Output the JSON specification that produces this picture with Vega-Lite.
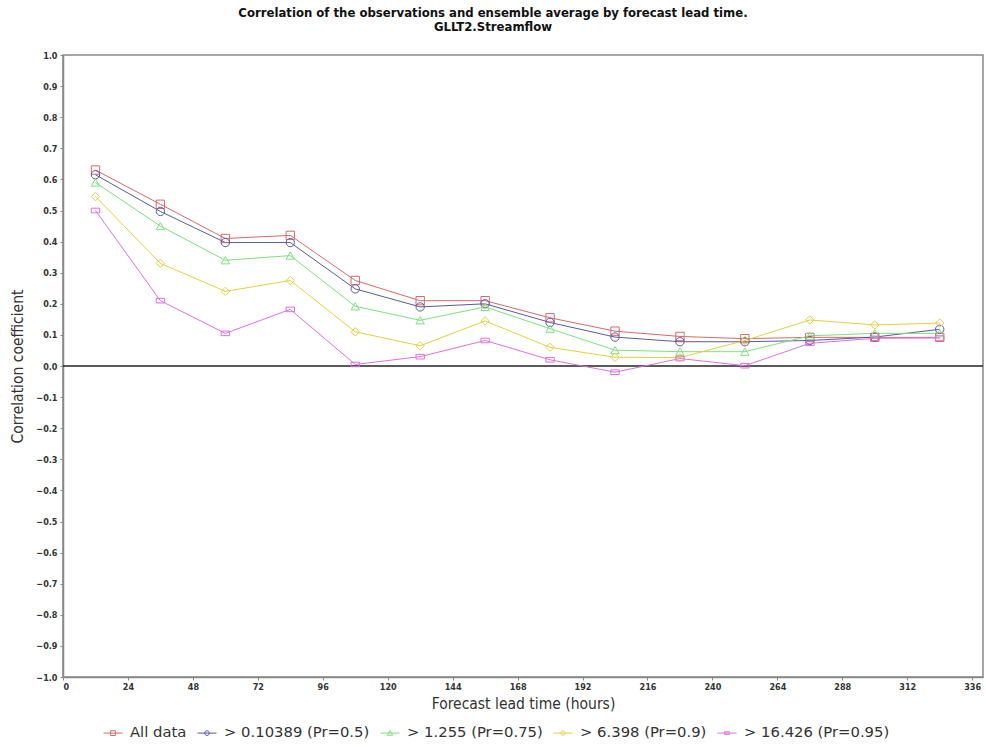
{
  "$schema": "https://vega.github.io/schema/vega-lite/v6.json",
  "autosize": "none",
  "width": 920,
  "height": 622,
  "padding": {"left": 63, "top": 55, "right": 3, "bottom": 70},
  "background": "white",
  "config": {
    "view": {"stroke": "#888888", "strokeWidth": 1.5},
    "font": "DejaVu Sans Condensed",
    "axis": {
      "grid": false,
      "domainColor": "#888888",
      "domainWidth": 1.5,
      "tickColor": "#888888",
      "tickSize": 3,
      "labelFont": "DejaVu Sans Condensed",
      "labelFontSize": 9,
      "labelFontWeight": "bold",
      "labelColor": "#333333",
      "titleFont": "DejaVu Sans Condensed",
      "titleFontSize": 15.5,
      "titleFontWeight": "normal",
      "titleColor": "#333333"
    },
    "legend": {
      "labelFont": "DejaVu Sans",
      "labelFontSize": 14.8,
      "labelColor": "#333333"
    }
  },
  "title": {
    "text": ["Correlation of the observations and ensemble average by forecast lead time.", "GLLT2.Streamflow"],
    "font": "DejaVu Sans Condensed",
    "fontSize": 13,
    "fontWeight": "bold",
    "lineHeight": 14,
    "color": "#111111",
    "anchor": "middle",
    "dx": -30,
    "offset": 17
  },
  "data": {
    "values": [
      {"series": "All data", "lead": 12, "r": 0.63},
      {"series": "All data", "lead": 36, "r": 0.52},
      {"series": "All data", "lead": 60, "r": 0.41},
      {"series": "All data", "lead": 84, "r": 0.42},
      {"series": "All data", "lead": 108, "r": 0.275},
      {"series": "All data", "lead": 132, "r": 0.21},
      {"series": "All data", "lead": 156, "r": 0.21},
      {"series": "All data", "lead": 180, "r": 0.155},
      {"series": "All data", "lead": 204, "r": 0.112},
      {"series": "All data", "lead": 228, "r": 0.095},
      {"series": "All data", "lead": 252, "r": 0.088},
      {"series": "All data", "lead": 276, "r": 0.092},
      {"series": "All data", "lead": 300, "r": 0.092},
      {"series": "All data", "lead": 324, "r": 0.092},
      {"series": "> 0.10389 (Pr=0.5)", "lead": 12, "r": 0.615},
      {"series": "> 0.10389 (Pr=0.5)", "lead": 36, "r": 0.497},
      {"series": "> 0.10389 (Pr=0.5)", "lead": 60, "r": 0.397},
      {"series": "> 0.10389 (Pr=0.5)", "lead": 84, "r": 0.397},
      {"series": "> 0.10389 (Pr=0.5)", "lead": 108, "r": 0.248},
      {"series": "> 0.10389 (Pr=0.5)", "lead": 132, "r": 0.19},
      {"series": "> 0.10389 (Pr=0.5)", "lead": 156, "r": 0.2},
      {"series": "> 0.10389 (Pr=0.5)", "lead": 180, "r": 0.14},
      {"series": "> 0.10389 (Pr=0.5)", "lead": 204, "r": 0.093},
      {"series": "> 0.10389 (Pr=0.5)", "lead": 228, "r": 0.078},
      {"series": "> 0.10389 (Pr=0.5)", "lead": 252, "r": 0.078},
      {"series": "> 0.10389 (Pr=0.5)", "lead": 276, "r": 0.082},
      {"series": "> 0.10389 (Pr=0.5)", "lead": 300, "r": 0.093},
      {"series": "> 0.10389 (Pr=0.5)", "lead": 324, "r": 0.118},
      {"series": "> 1.255 (Pr=0.75)", "lead": 12, "r": 0.59},
      {"series": "> 1.255 (Pr=0.75)", "lead": 36, "r": 0.45},
      {"series": "> 1.255 (Pr=0.75)", "lead": 60, "r": 0.34},
      {"series": "> 1.255 (Pr=0.75)", "lead": 84, "r": 0.355},
      {"series": "> 1.255 (Pr=0.75)", "lead": 108, "r": 0.192},
      {"series": "> 1.255 (Pr=0.75)", "lead": 132, "r": 0.147},
      {"series": "> 1.255 (Pr=0.75)", "lead": 156, "r": 0.19},
      {"series": "> 1.255 (Pr=0.75)", "lead": 180, "r": 0.12},
      {"series": "> 1.255 (Pr=0.75)", "lead": 204, "r": 0.051},
      {"series": "> 1.255 (Pr=0.75)", "lead": 228, "r": 0.046},
      {"series": "> 1.255 (Pr=0.75)", "lead": 252, "r": 0.046},
      {"series": "> 1.255 (Pr=0.75)", "lead": 276, "r": 0.097},
      {"series": "> 1.255 (Pr=0.75)", "lead": 300, "r": 0.105},
      {"series": "> 1.255 (Pr=0.75)", "lead": 324, "r": 0.105},
      {"series": "> 6.398 (Pr=0.9)", "lead": 12, "r": 0.545},
      {"series": "> 6.398 (Pr=0.9)", "lead": 36, "r": 0.33},
      {"series": "> 6.398 (Pr=0.9)", "lead": 60, "r": 0.24},
      {"series": "> 6.398 (Pr=0.9)", "lead": 84, "r": 0.275},
      {"series": "> 6.398 (Pr=0.9)", "lead": 108, "r": 0.11},
      {"series": "> 6.398 (Pr=0.9)", "lead": 132, "r": 0.065},
      {"series": "> 6.398 (Pr=0.9)", "lead": 156, "r": 0.145},
      {"series": "> 6.398 (Pr=0.9)", "lead": 180, "r": 0.06},
      {"series": "> 6.398 (Pr=0.9)", "lead": 204, "r": 0.028},
      {"series": "> 6.398 (Pr=0.9)", "lead": 228, "r": 0.027},
      {"series": "> 6.398 (Pr=0.9)", "lead": 252, "r": 0.082},
      {"series": "> 6.398 (Pr=0.9)", "lead": 276, "r": 0.148},
      {"series": "> 6.398 (Pr=0.9)", "lead": 300, "r": 0.132},
      {"series": "> 6.398 (Pr=0.9)", "lead": 324, "r": 0.138},
      {"series": "> 16.426 (Pr=0.95)", "lead": 12, "r": 0.5},
      {"series": "> 16.426 (Pr=0.95)", "lead": 36, "r": 0.21},
      {"series": "> 16.426 (Pr=0.95)", "lead": 60, "r": 0.105},
      {"series": "> 16.426 (Pr=0.95)", "lead": 84, "r": 0.182},
      {"series": "> 16.426 (Pr=0.95)", "lead": 108, "r": 0.005},
      {"series": "> 16.426 (Pr=0.95)", "lead": 132, "r": 0.03},
      {"series": "> 16.426 (Pr=0.95)", "lead": 156, "r": 0.082},
      {"series": "> 16.426 (Pr=0.95)", "lead": 180, "r": 0.02},
      {"series": "> 16.426 (Pr=0.95)", "lead": 204, "r": -0.02},
      {"series": "> 16.426 (Pr=0.95)", "lead": 228, "r": 0.024},
      {"series": "> 16.426 (Pr=0.95)", "lead": 252, "r": 0.001},
      {"series": "> 16.426 (Pr=0.95)", "lead": 276, "r": 0.073},
      {"series": "> 16.426 (Pr=0.95)", "lead": 300, "r": 0.089},
      {"series": "> 16.426 (Pr=0.95)", "lead": 324, "r": 0.09}
    ]
  },
  "encoding": {
    "x": {
      "field": "lead",
      "type": "quantitative",
      "scale": {"domain": [0, 340], "nice": false, "zero": false},
      "axis": {"values": [0, 24, 48, 72, 96, 120, 144, 168, 192, 216, 240, 264, 288, 312, 336], "title": "Forecast lead time (hours)", "labelPadding": 2, "titlePadding": 5}
    },
    "y": {
      "field": "r",
      "type": "quantitative",
      "scale": {"domain": [-1, 1], "nice": false},
      "axis": {"values": [-1, -0.9, -0.8, -0.7, -0.6, -0.5, -0.4, -0.3, -0.2, -0.1, 0, 0.1, 0.2, 0.3, 0.4, 0.5, 0.6, 0.7, 0.8, 0.9, 1], "format": ".1f", "title": "Correlation coefficient", "labelPadding": 3, "titlePadding": 10}
    },
    "color": {
      "field": "series",
      "type": "nominal",
      "legend": null,
      "scale": {
        "domain": ["All data", "> 0.10389 (Pr=0.5)", "> 1.255 (Pr=0.75)", "> 6.398 (Pr=0.9)", "> 16.426 (Pr=0.95)"],
        "range": ["#d8696c", "#5a5aa0", "#7ee07e", "#e2d040", "#dc72dc"]
      }
    }
  },
  "layer": [
    {
      "mark": {"type": "rule", "color": "#222222", "strokeWidth": 1.5},
      "data": {"values": [{"zero": 0}]},
      "encoding": {
        "y": {"field": "zero", "type": "quantitative"},
        "x": null,
        "color": null
      }
    },
    {
      "mark": {"type": "line", "strokeWidth": 1},
      "encoding": {}
    },
    {
      "mark": {"type": "point", "filled": false, "strokeWidth": 1, "size": 70, "opacity": 1},
      "encoding": {
        "shape": {
          "field": "series",
          "type": "nominal",
          "legend": null,
          "scale": {
            "domain": ["All data", "> 0.10389 (Pr=0.5)", "> 1.255 (Pr=0.75)", "> 6.398 (Pr=0.9)", "> 16.426 (Pr=0.95)"],
            "range": ["square", "circle", "triangle-up", "diamond", "M-1,-0.55H1V0.55H-1Z"]
          }
        }
      }
    },
    {
      "mark": {"type": "point", "filled": false, "strokeWidth": 1, "size": 70, "opacity": 0},
      "encoding": {
        "color": {
          "field": "series",
          "type": "nominal",
          "scale": {
            "domain": ["All data", "> 0.10389 (Pr=0.5)", "> 1.255 (Pr=0.75)", "> 6.398 (Pr=0.9)", "> 16.426 (Pr=0.95)"],
            "range": ["#d8696c", "#5a5aa0", "#7ee07e", "#e2d040", "#dc72dc"]
          },
          "legend": {
            "orient": "none",
            "legendX": 40,
            "legendY": 668,
            "direction": "horizontal",
            "title": null,
            "symbolSize": 361,
            "symbolStrokeWidth": 1,
            "symbolOpacity": 1,
            "labelLimit": 300,
            "columnPadding": 8,
            "labelOffset": 7
          }
        },
        "shape": {
          "field": "series",
          "type": "nominal",
          "legend": {
            "orient": "none",
            "legendX": 40,
            "legendY": 668,
            "direction": "horizontal",
            "title": null,
            "symbolSize": 361,
            "symbolStrokeWidth": 1,
            "symbolOpacity": 1,
            "labelLimit": 300,
            "columnPadding": 8,
            "labelOffset": 7
          },
          "scale": {
            "domain": ["All data", "> 0.10389 (Pr=0.5)", "> 1.255 (Pr=0.75)", "> 6.398 (Pr=0.9)", "> 16.426 (Pr=0.95)"],
            "range": [
              "M-1,0H1M-0.25,-0.25H0.25V0.25H-0.25Z",
              "M-1,0H1M0.25,0A0.25,0.25,0,1,1,-0.25,0A0.25,0.25,0,1,1,0.25,0Z",
              "M-1,0H1M0,-0.28L0.28,0.22H-0.28Z",
              "M-1,0H1M0,-0.28L0.28,0L0,0.28L-0.28,0Z",
              "M-1,0H1M-0.25,-0.14H0.25V0.14H-0.25Z"
            ]
          }
        }
      }
    }
  ],
  "resolve": {"scale": {"shape": "independent", "color": "independent"}}
}
